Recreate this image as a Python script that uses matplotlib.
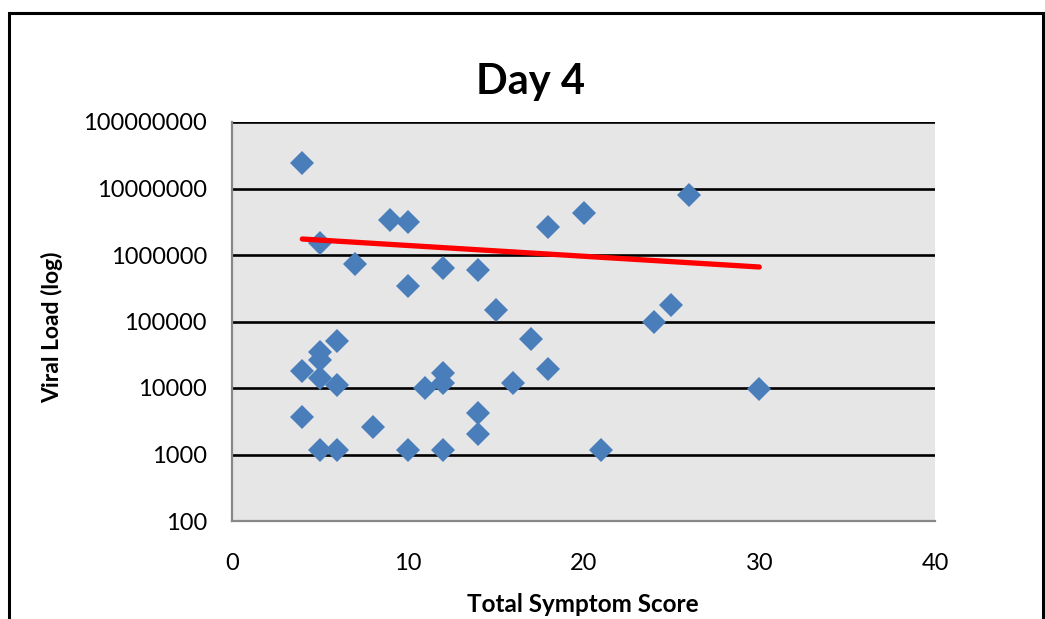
import matplotlib
matplotlib.use("Agg")
from matplotlib import pyplot as plt
from matplotlib.patches import Rectangle
from matplotlib.ticker import FixedLocator, FixedFormatter

# Total symptom score vs viral load, day 4
symptom_score = [4, 4, 4,
                 5, 5, 5, 5, 5,
                 6, 6, 6,
                 7, 8, 9,
                 10, 10, 10,
                 11,
                 12, 12, 12, 12,
                 14, 14, 14,
                 15, 16, 17,
                 18, 18,
                 20, 21, 24, 25, 26, 30]
viral_load = [2.4e7, 1.8e4, 3.7e3,
              1.5e6, 3.5e4, 2.6e4, 1.4e4, 1.15e3,
              5.1e4, 1.1e4, 1.15e3,
              7.3e5, 2.6e3, 3.4e6,
              3.1e6, 3.4e5, 1.15e3,
              1.0e4,
              6.4e5, 1.7e4, 1.2e4, 1.15e3,
              5.9e5, 4.2e3, 2.0e3,
              1.5e5, 1.2e4, 5.5e4,
              2.6e6, 1.9e4,
              4.3e6, 1.15e3, 9.8e4, 1.8e5, 7.9e6, 9.7e3]

# exponential trend line end points (as drawn in the chart)
trend_x = [4, 30]
trend_y = [1.74e6, 6.6e5]

y_ticks = [100, 1000, 10000, 100000, 1000000, 10000000, 100000000]
y_tick_labels = [str(v) for v in y_ticks]
x_ticks = [0, 10, 20, 30, 40]

plt.rcParams['font.family'] = ['Lato', 'DejaVu Sans']

fig = plt.figure(figsize=(10.45, 6.19), dpi=100)
ax = fig.add_axes([232 / 1045, 1 - 521 / 619, (935 - 232) / 1045, (521 - 122) / 619])

ax.set_facecolor('#e6e6e6')
ax.set_yscale('log')
ax.set_xlim(0, 40)
ax.set_ylim(100, 1e8)

ax.yaxis.set_major_locator(FixedLocator(y_ticks))
ax.yaxis.set_major_formatter(FixedFormatter(y_tick_labels))
ax.yaxis.set_minor_locator(FixedLocator([]))
ax.set_xticks(x_ticks)
ax.set_xticklabels([str(v) for v in x_ticks])

ax.grid(axis='y', color='black', linewidth=1.9)
ax.set_axisbelow(True)

for side in ['top', 'right']:
    ax.spines[side].set_visible(False)
for side in ['left', 'bottom']:
    ax.spines[side].set_color('#888888')
    ax.spines[side].set_linewidth(1.6)

ax.tick_params(axis='both', length=0, labelsize=17, colors='black')
ax.tick_params(axis='y', pad=18)
ax.tick_params(axis='x', pad=23)

ax.plot(symptom_score, viral_load, linestyle='none', marker='D', markersize=12.5,
        color='#4a7ebb', markeredgewidth=0, zorder=3)
ax.plot(trend_x, trend_y, color='#ff0000', linewidth=3.8, solid_capstyle='round', zorder=4)

fig.text(531 / 1045, 1 - 82 / 619, 'Day 4', fontsize=30, fontweight='bold',
         ha='center', va='center')
fig.text(583 / 1045, 1 - 604 / 619, 'Total Symptom Score', fontsize=17.5, fontweight='bold',
         ha='center', va='center')
fig.text(52 / 1045, 1 - 327 / 619, 'Viral Load (log)', fontsize=16.5, fontweight='bold',
         ha='center', va='center', rotation=90)

# chart border
fig.patches.append(Rectangle((9 / 1045, -0.1), (1043 - 9) / 1045, 1.1 - 13 / 619,
                             transform=fig.transFigure, fill=False,
                             edgecolor='black', linewidth=2.2, figure=fig))

fig.savefig('out.png', dpi=100)
